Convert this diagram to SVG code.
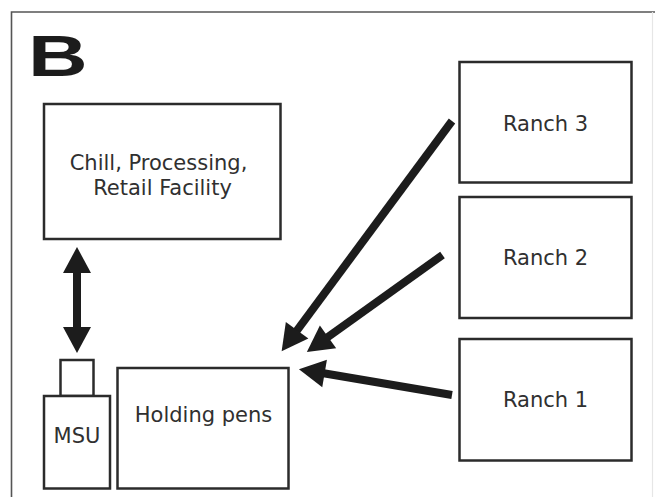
<svg xmlns="http://www.w3.org/2000/svg" width="655" height="497" viewBox="0 0 655 497">
  <style>
    .box { fill: #ffffff; stroke: #2b2b2b; stroke-width: 2.5; }
    .lbl { font-family: "DejaVu Sans", Verdana, sans-serif; font-size: 21px; fill: #303030; text-anchor: middle; }
    .shaft { fill: none; stroke: #1c1c1c; stroke-width: 8; stroke-linecap: butt; }
    .frame { fill: none; stroke: #555555; stroke-width: 1.6; }
  </style>
  <defs>
    <marker id="head" markerUnits="userSpaceOnUse" viewBox="0 -15 30 30" refX="1" refY="0" markerWidth="30" markerHeight="30" orient="auto-start-reverse" overflow="visible">
      <path d="M0,-14 L26,0 L0,14 Z" fill="#1c1c1c"/>
    </marker>
  </defs>

  <rect width="655" height="497" fill="#ffffff"/>

  <!-- panel frame -->
  <path class="frame" d="M11.5,497 L11.5,12 L655,12"/>
  <line x1="652.5" y1="12" x2="652.5" y2="497" stroke="#e6e6e6" stroke-width="1.2"/>

  <!-- panel letter -->
  <text transform="translate(28,76) scale(1.45,1)" font-family="Liberation Sans, Arial, sans-serif" font-weight="bold" font-size="57" fill="#1c1c1c">B</text>

  <g id="chill">
    <rect class="box" x="44" y="104" width="236.5" height="135"/>
    <text class="lbl" x="158.5" y="170" font-size="20.5">Chill, Processing,</text>
    <text class="lbl" x="162.5" y="195" font-size="20.5">Retail Facility</text>
  </g>

  <g id="msu">
    <rect class="box" x="60.5" y="360" width="33" height="36"/>
    <rect class="box" x="44" y="396" width="66" height="92.5"/>
    <text class="lbl" x="77" y="442.5">MSU</text>
  </g>

  <g id="holding">
    <rect class="box" x="117.5" y="368" width="171" height="120.5"/>
    <text class="lbl" x="203.5" y="421.5">Holding pens</text>
  </g>

  <g id="ranch3">
    <rect class="box" x="459.5" y="62" width="172" height="120.5"/>
    <text class="lbl" x="545.5" y="130.5">Ranch 3</text>
  </g>

  <g id="ranch2">
    <rect class="box" x="459.5" y="197" width="172" height="121"/>
    <text class="lbl" x="545.5" y="265">Ranch 2</text>
  </g>

  <g id="ranch1">
    <rect class="box" x="459.5" y="339" width="172" height="121.5"/>
    <text class="lbl" x="545.5" y="406.5">Ranch 1</text>
  </g>

  <g id="connectors">
    <!-- two-way link between the facility and the MSU -->
    <line class="shaft" x1="77" y1="272" x2="77" y2="328" stroke-width="9" marker-start="url(#head)" marker-end="url(#head)"/>
    <!-- ranches to holding pens -->
    <line class="shaft" x1="452" y1="121" x2="296.5" y2="331.1" marker-end="url(#head)"/>
    <line class="shaft" x1="442.5" y1="255" x2="327.2" y2="337.4" marker-end="url(#head)"/>
    <line class="shaft" x1="452" y1="395" x2="323.6" y2="373.3" marker-end="url(#head)"/>
  </g>
</svg>
